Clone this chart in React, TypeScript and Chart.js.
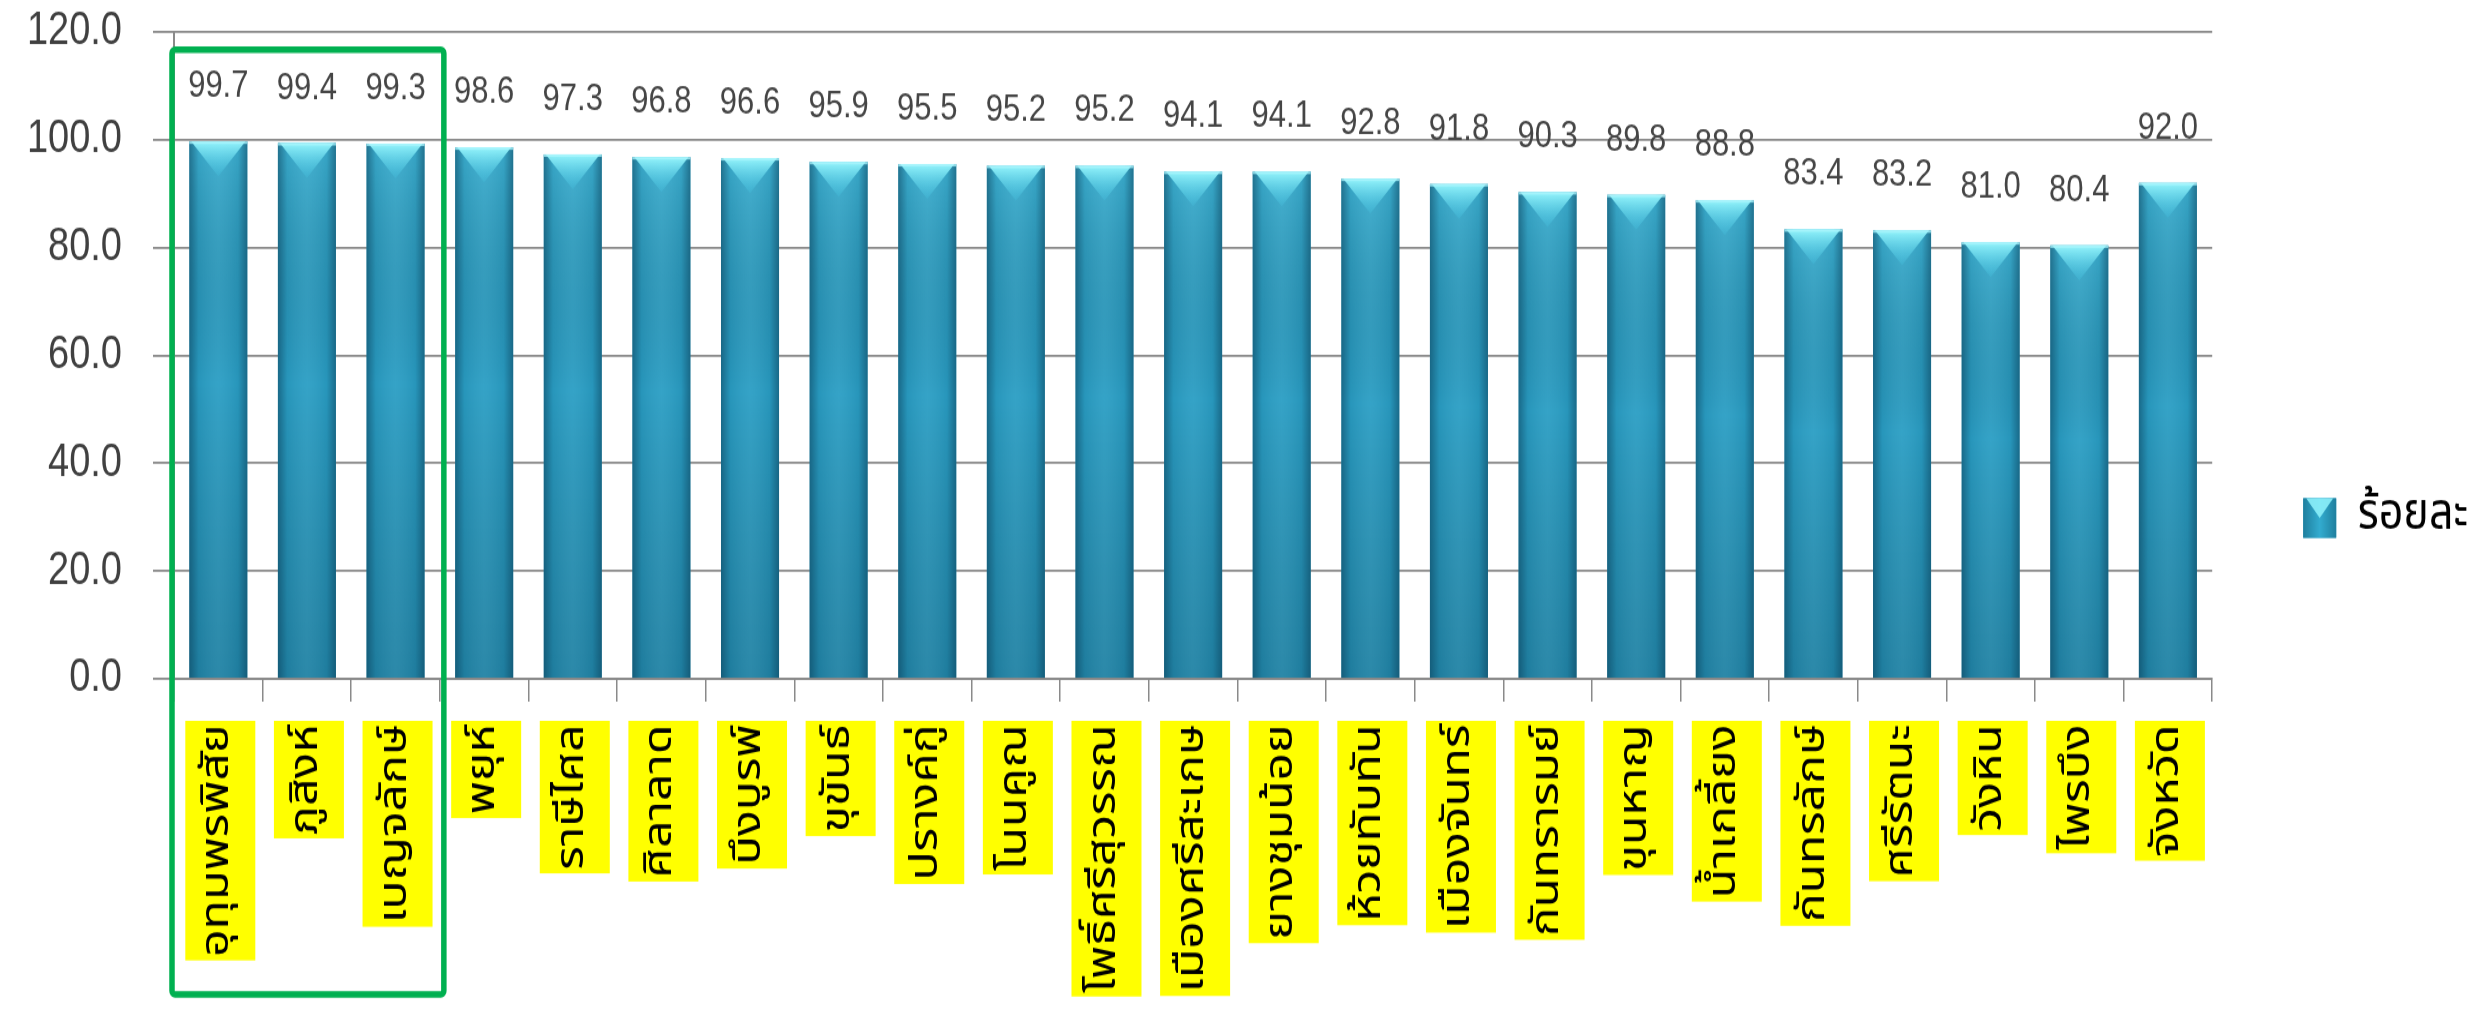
import React, { useEffect, useRef } from "react";
import { Chart, registerables } from "chart.js";

Chart.register(...registerables);

// ---------- data ----------
const categories: string[] = [
  "อุทุมพรพิสัย",
  "ภูสิงห์",
  "เบญจลักษ์",
  "พยุห์",
  "ราษีไศล",
  "ศิลาลาด",
  "บึงบูรพ์",
  "ขุขันธ์",
  "ปรางค์กู่",
  "โนนคูณ",
  "โพธิ์ศรีสุวรรณ",
  "เมืองศรีสะเกษ",
  "ยางชุมน้อย",
  "ห้วยทับทัน",
  "เมืองจันทร์",
  "กันทรารมย์",
  "ขุนหาญ",
  "น้ำเกลี้ยง",
  "กันทรลักษ์",
  "ศรีรัตนะ",
  "วังหิน",
  "ไพรบึง",
  "จังหวัด",
];

const percentValues: number[] = [
  99.7, 99.4, 99.3, 98.6, 97.3, 96.8, 96.6, 95.9, 95.5, 95.2, 95.2, 94.1,
  94.1, 92.8, 91.8, 90.3, 89.8, 88.8, 83.4, 83.2, 81.0, 80.4, 92.0,
];

const seriesName = "ร้อยละ";
const yTickValues: number[] = [0, 20, 40, 60, 80, 100, 120];
const highlightedCount = 3;
const highlightTopValue = 116.7;

// ---------- drawing constants ----------
const CSS_W = 2470;
const CSS_H = 996;
const STRETCH = 1.2;
const W = CSS_W;
const H = Math.round(CSS_H / STRETCH);

const NUM_FONT = "'Liberation Sans', Arial, sans-serif";
const THAI_FONT = "'Noto Sans Thai', 'Noto Sans Thai UI', Tahoma, 'Liberation Sans', sans-serif";

const barLookPlugin = {
  id: "barLook",
  afterDatasetDraw(chart: any, args: any) {
    const c = chart.ctx as CanvasRenderingContext2D;
    args.meta.data.forEach((bar: any) => {
      const { x, y, base, width } = bar.getProps(["x", "y", "base", "width"], true);
      const l = x - width / 2;
      const r = x + width / 2;
      const h = base - y;
      c.save();
      const vg = c.createLinearGradient(0, y, 0, base);
      vg.addColorStop(0, "rgba(110,225,245,0.28)");
      vg.addColorStop(0.45, "rgba(0,0,0,0)");
      vg.addColorStop(1, "rgba(0,35,55,0.22)");
      c.fillStyle = vg;
      c.fillRect(l, y, width, h);
      const hg = c.createLinearGradient(l, 0, r, 0);
      hg.addColorStop(0, "rgba(8,55,80,0.50)");
      hg.addColorStop(0.16, "rgba(8,55,80,0.08)");
      hg.addColorStop(0.5, "rgba(255,255,255,0.05)");
      hg.addColorStop(0.84, "rgba(8,55,80,0.08)");
      hg.addColorStop(1, "rgba(8,55,80,0.50)");
      c.fillStyle = hg;
      c.fillRect(l, y, width, h);
      // top "V" highlight
      const capH = width * 0.5;
      const tg = c.createLinearGradient(0, y, 0, y + capH);
      tg.addColorStop(0, "rgba(150,245,252,1)");
      tg.addColorStop(1, "rgba(70,200,230,0.2)");
      c.beginPath();
      c.moveTo(l + 2, y);
      c.lineTo(r - 2, y);
      c.lineTo(x, y + capH);
      c.closePath();
      c.fillStyle = tg;
      c.fill();
      c.fillStyle = "rgba(170,245,252,0.8)";
      c.fillRect(l, y, width, 2);
      c.restore();
    });
  },
};

const valueLabelPlugin = {
  id: "valueLabels",
  afterDatasetsDraw(chart: any) {
    const c = chart.ctx as CanvasRenderingContext2D;
    const meta = chart.getDatasetMeta(0);
    const data = chart.data.datasets[0].data as number[];
    c.save();
    c.font = `31px ${NUM_FONT}`;
    c.fillStyle = "#454545";
    c.textAlign = "center";
    c.textBaseline = "alphabetic";
    meta.data.forEach((bar: any, i: number) => {
      const { x, y } = bar.getProps(["x", "y"], true);
      c.fillText(data[i].toFixed(1), x, y - 37);
    });
    c.restore();
  },
};

const highlightBoxPlugin = {
  id: "highlightBox",
  afterDraw(chart: any) {
    const c = chart.ctx as CanvasRenderingContext2D;
    const xs = chart.scales.x;
    const ys = chart.scales.y;
    const half = (xs.getPixelForValue(1) - xs.getPixelForValue(0)) / 2;
    const left = xs.getPixelForValue(0) - half - 2;
    const right = xs.getPixelForValue(highlightedCount - 1) + half + 4;
    const top = ys.getPixelForValue(highlightTopValue);
    const bottom = chart.height - 8;
    c.save();
    c.strokeStyle = "#00b050";
    c.lineWidth = 5.5;
    c.beginPath();
    (c as any).roundRect(left, top, right - left, bottom - top, 3);
    c.stroke();
    c.restore();
  },
};

const legendBoxPlugin = {
  id: "legendBoxLook",
  afterDraw(chart: any) {
    const lg = chart.legend;
    if (!lg || !lg.legendHitBoxes || !lg.legendHitBoxes[0]) return;
    const hb = lg.legendHitBoxes[0];
    const bw = 33;
    const bh = 33;
    const bx = hb.left;
    const by = hb.top + (hb.height - bh) / 2;
    const c = chart.ctx as CanvasRenderingContext2D;
    c.save();
    const g = c.createLinearGradient(bx, 0, bx + bw, 0);
    g.addColorStop(0, "#1f7f9e");
    g.addColorStop(0.5, "#33acd0");
    g.addColorStop(1, "#1f7f9e");
    c.fillStyle = g;
    c.fillRect(bx, by, bw, bh);
    c.beginPath();
    c.moveTo(bx + 3, by);
    c.lineTo(bx + bw - 3, by);
    c.lineTo(bx + bw / 2, by + bh * 0.5);
    c.closePath();
    c.fillStyle = "rgba(140,240,250,0.9)";
    c.fill();
    c.restore();
  },
};

export default function App() {
  const ref = useRef<HTMLCanvasElement | null>(null);

  useEffect(() => {
    if (!ref.current) return;
    const chart = new Chart(ref.current, {
      type: "bar",
      data: {
        labels: categories,
        datasets: [
          {
            label: seriesName,
            data: percentValues,
            backgroundColor: "#2a9ec4",
            borderWidth: 0,
            barPercentage: 0.655,
            categoryPercentage: 1,
          },
        ],
      },
      options: {
        responsive: false,
        devicePixelRatio: 1,
        animation: false,
        layout: { padding: { top: 20, left: 0, right: 0, bottom: 0 } },
        plugins: {
          tooltip: { enabled: false },
          legend: {
            position: "right",
            labels: {
              boxWidth: 33,
              boxHeight: 33,
              padding: 91,
              color: "#404040",
              font: { family: THAI_FONT, size: 43 },
              generateLabels: () => [
                {
                  text: seriesName,
                  fillStyle: "#2a9ec4",
                  strokeStyle: "#1f7f9e",
                  lineWidth: 0,
                  hidden: false,
                  datasetIndex: 0,
                } as any,
              ],
            },
          },
        },
        scales: {
          x: {
            afterFit: (s: any) => {
              s.height = H - 559;
              s.paddingLeft = 0;
              s.paddingRight = 0;
            },
            grid: {
              display: true,
              drawOnChartArea: false,
              drawTicks: true,
              tickLength: 19,
              color: "#8a8a8a",
              lineWidth: 1.5,
              offset: true,
            },
            border: { display: true, color: "#8a8a8a", width: 2 },
            ticks: {
              autoSkip: false,
              maxRotation: 90,
              minRotation: 90,
              padding: 19,
              labelOffset: -24,
              color: "#000000",
              font: { family: THAI_FONT, size: 40, lineHeight: 1.3 },
              showLabelBackdrop: true,
              backdropColor: "#ffff00",
              backdropPadding: { top: 9, bottom: 9, left: 3, right: 3 },
            },
          },
          y: {
            min: 0,
            max: 120,
            afterFit: (s: any) => {
              s.width = 166;
              s.paddingTop = 20;
              s.paddingBottom = 20;
            },
            afterBuildTicks: (s: any) => {
              s.ticks = yTickValues.map((v) => ({ value: v }));
            },
            grid: {
              color: "#8a8a8a",
              lineWidth: 1.8,
              tickLength: 21,
            },
            border: { display: true, color: "#8a8a8a", width: 2 },
            ticks: {
              padding: 31,
              color: "#404040",
              font: { family: NUM_FONT, size: 38, lineHeight: 1.0 },
              callback: (v: any) => Number(v).toFixed(1),
            },
          },
        },
      },
      plugins: [barLookPlugin, valueLabelPlugin, highlightBoxPlugin, legendBoxPlugin],
    });
    return () => chart.destroy();
  }, []);

  return (
    <canvas
      ref={ref}
      width={W}
      height={H}
      style={{ width: `${CSS_W}px`, height: `${CSS_H}px`, display: "block" }}
    />
  );
}
